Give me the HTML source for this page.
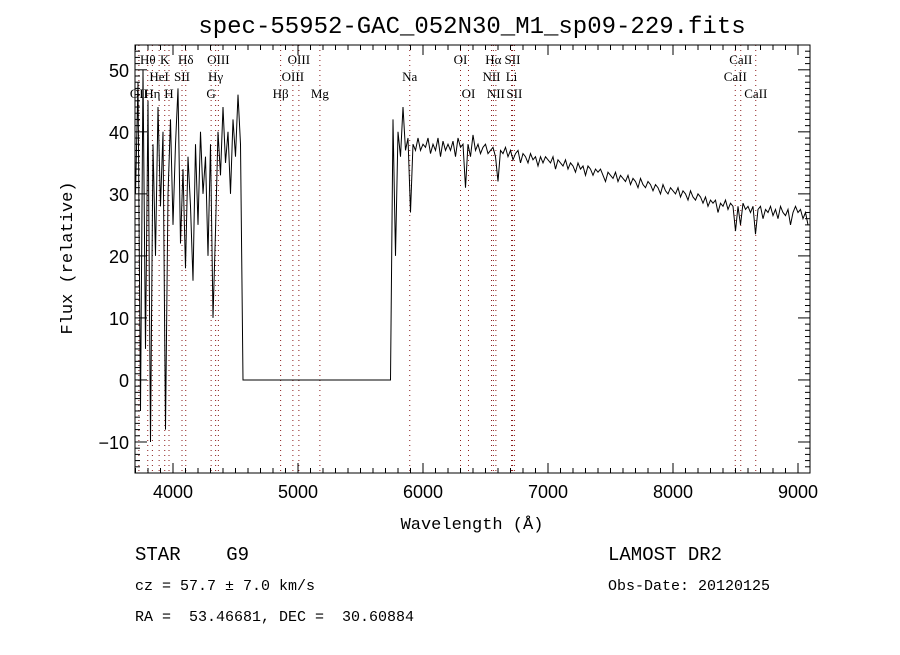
<!DOCTYPE html>
<html><head><meta charset="utf-8"><style>
body{margin:0;background:#fff}
svg text{font-family:"Liberation Serif",serif;fill:#000;white-space:pre}
svg text.m{font-family:"Liberation Mono",monospace}
svg text.s{font-family:"Liberation Sans",sans-serif}
</style></head><body>
<svg id="c" width="900" height="650" xmlns="http://www.w3.org/2000/svg">
<rect width="900" height="650" fill="#fff"/>
<text x="472" y="33" text-anchor="middle" class="m" font-size="24">spec-55952-GAC_052N30_M1_sp09-229.fits</text>
<g id="lines"></g>
<g id="axes"></g>
<path id="spec" fill="none" stroke="#000" stroke-width="1"/>
<text x="472" y="529" text-anchor="middle" class="m" font-size="17">Wavelength (Å)</text>
<text transform="translate(72,258) rotate(-90)" text-anchor="middle" class="m" font-size="17">Flux (relative)</text>
<text x="135" y="560" class="m" font-size="19">STAR    G9</text>
<text x="608" y="560" class="m" font-size="19">LAMOST DR2</text>
<text x="135" y="590" class="m" font-size="15">cz = 57.7 ± 7.0 km/s</text>
<text x="608" y="590" class="m" font-size="15">Obs-Date: 20120125</text>
<text x="135" y="621" class="m" font-size="15">RA =  53.46681, DEC =  30.60884</text>
</svg>
<script>
const waveStart = 3700;
const waveStep = 20;
const flux = [
30,48,-5,50,5,45,-10,38,20,44,
28,40,-8,30,42,25,38,47,22,34,
18,36,28,16,38,25,40,30,36,20,
38,10,24,40,33,44,35,40,30,42,
36,46,38,
0,0,0,0,0,0,0,0,0,0,0,0,0,0,0,0,0,0,0,0,
0,0,0,0,0,0,0,0,0,0,0,0,0,0,0,0,0,0,0,0,
0,0,0,0,0,0,0,0,0,0,0,0,0,0,0,0,0,0,0,0,
42,20,40,36,44,37,39,27,38,37,39,37,38,
37.5,39,36.5,38,37,39,36,38.5,37,38,
37,38.5,36,39,37.5,38,31,38,36,39.5,
37,38,36.5,37.5,38,36.5,37,37.5,36,32,
37,36.5,37.5,36,37,35.5,36.5,37,35,36.5,
36,35,36.5,35.5,36,34.5,36,35,36,35.5,
35,36,34,35.5,35,34.5,35.5,34,35,34.5,
33.5,35,34,34.5,33,34.5,34,33,34,33.5,
34,33,32,33.5,33,32.5,33.5,32,33,32.5,
32,33,31.5,32.5,32,31,32.5,31.5,31,32,
31.5,30.5,31.5,31,30,31.5,30.5,30,31,30.5,
30,31,29.5,30.5,30,29,30.5,29.5,29,30,
29.5,28.5,29.5,28,29,28.5,29,27,28.5,28,
29,27.5,28.5,28,24,28,25,28.5,27.5,28,
27,28,23.5,27.5,28,26,27.5,27,28,26.5,
27.5,26,28,27,26.5,27.5,25,27,28,27,
27.5,26,27,25,22
];
const xTicks = [4000,5000,6000,7000,8000,9000];
const yTicks = [-10,0,10,20,30,40,50];
const lineWaves = [3727,3798,3835,3889,3934,3968,4072,4102,4305,4341,4363,4861,4959,5007,5175,5894,6300,6364,6548,6563,6583,6708,6716,6731,8498,8542,8662];
const lineLabels = [
 ["OII",3727,3],["Hθ",3798,1],["Hη",3835,3],["HeI",3889,2],["K",3934,1],["H",3968,3],["SII",4072,2],["Hδ",4102,1],
 ["G",4305,3],["Hγ",4341,2],["OIII",4363,1],["Hβ",4861,3],["OIII",4959,2],["OIII",5007,1],["Mg",5175,3],
 ["Na",5894,2],["OI",6300,1],["OI",6364,3],["NII",6548,2],["Hα",6563,1],["NII",6583,3],["Li",6708,2],["SII",6716,1],["SII",6731,3],
 ["CaII",8498,2],["CaII",8542,1],["CaII",8662,3]
];
const X0=135,X1=810,Y0=45,Y1=473,WMIN=3696,WMAX=9096,FMIN=-15,FMAX=54;
const sx=w=>X0+(w-WMIN)/(WMAX-WMIN)*(X1-X0);
const sy=f=>Y1-(f-FMIN)/(FMAX-FMIN)*(Y1-Y0);
const NS="http://www.w3.org/2000/svg";
function mk(t,a,p){const e=document.createElementNS(NS,t);for(const k in a)e.setAttribute(k,a[k]);p.appendChild(e);return e;}
const L=document.getElementById('lines'), A=document.getElementById('axes');
lineWaves.forEach(w=>{
 const e=mk('line',{x1:sx(w),x2:sx(w),y1:Y0,y2:Y1,stroke:'#8b1a1a','stroke-width':1,'stroke-dasharray':'1,4'},L);
 
 
});
lineLabels.forEach(l=>{
 const t=mk('text',{x:sx(l[1]),y:47+l[2]*17,'text-anchor':'middle','font-size':13},L);
 t.textContent=l[0];
 
 
});
let d='';
flux.forEach((f,i)=>{const w=waveStart+i*waveStep;if(w>WMAX)return;d+=(i?'L':'M')+sx(w).toFixed(1)+','+sy(f).toFixed(1);});
document.getElementById('spec').setAttribute('d',d);
const fr=mk('rect',{x:X0,y:Y0,width:X1-X0,height:Y1-Y0,fill:'none',stroke:'#000'},A);


for(let w=3700;w<=9000;w+=100){const big=w%1000===0,len=big?10:5,x=sx(w);
 mk('line',{x1:x,x2:x,y1:Y1,y2:Y1-len,stroke:'#000'},A);mk('line',{x1:x,x2:x,y1:Y0,y2:Y0+len,stroke:'#000'},A);}
for(let f=-15;f<=54;f+=1){const big=f%10===0,len=big?12:5,y=sy(f);
 mk('line',{x1:X0,x2:X0+len,y1:y,y2:y,stroke:'#000'},A);mk('line',{x1:X1,x2:X1-len,y1:y,y2:y,stroke:'#000'},A);}
xTicks.forEach(w=>{const t=mk('text',{x:sx(w),y:Y1+25,'text-anchor':'middle','font-size':18,'class':'s'},A);t.textContent=w;
 
 });
yTicks.forEach(f=>{const t=mk('text',{x:X0-6,y:sy(f)+7,'text-anchor':'end','font-size':18,'class':'s'},A);t.textContent=f===-10?'−10':f;
 
 });
</script>
</body></html>
